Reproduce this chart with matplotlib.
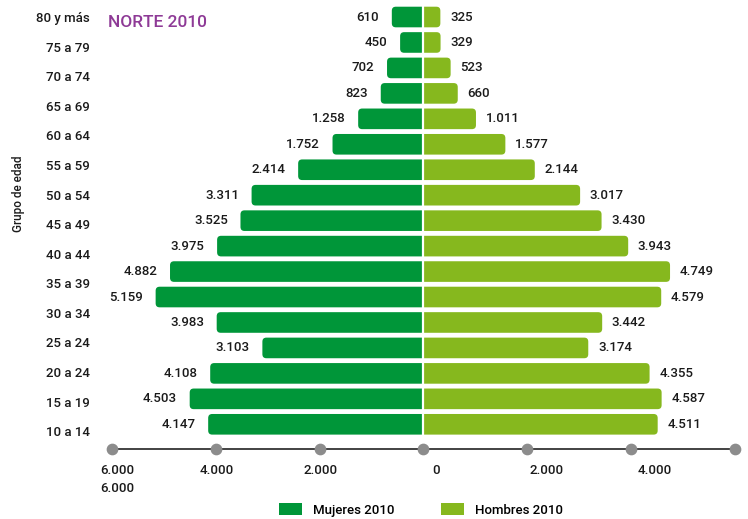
import matplotlib
matplotlib.use("Agg")
import matplotlib.pyplot as plt
import numpy as np
from matplotlib.patches import FancyBboxPatch, Rectangle, Patch

plt.rcParams['font.family'] = ['Roboto', 'DejaVu Sans']

# ---- data ----
age_groups = ["80 y más", "75 a 79", "70 a 74", "65 a 69", "60 a 64", "55 a 59",
              "50 a 54", "45 a 49", "40 a 44", "35 a 39", "30 a 34", "25 a 24",
              "20 a 24", "15 a 19", "10 a 14"]
mujeres = [610, 450, 702, 823, 1258, 1752, 2414, 3311, 3525, 3975, 4882, 5159,
           3983, 3103, 4108, 4503, 4147]
hombres = [325, 329, 523, 660, 1011, 1577, 2144, 3017, 3430, 3943, 4749, 4579,
           3442, 3174, 4355, 4587, 4511]
axis_dots = [-6000, -4000, -2000, 0, 2000, 4000, 6000]
xtick_labels = ["6.000\n6.000", "4.000", "2.000", "0", "2.000", "4.000"]
xtick_label_pos = [-5900, -3980, -1980, 250, 2370, 4450]
title = "NORTE 2010"
ylabel = "Grupo de edad"
legend_labels = ["Mujeres 2010", "Hombres 2010"]

c_m = "#009639"
c_h = "#86B81E"
c_title = "#8E3A96"
c_text = "#1a1a1a"
fs = 9.5

def fmt(v):
    return f"{v:,}".replace(",", ".")

fig = plt.figure(figsize=(7.48, 5.19), dpi=100)
ax = fig.add_axes([0.1497, 0.1349, 0.9826 - 0.1497, 0.9942 - 0.1349])

n = len(mujeres)
y = np.arange(n)[::-1]
ybot, ytop = -0.97, 16.55
ax.set_xlim(-6000, 6000)
ax.set_ylim(ybot, ytop)

bh = 0.81
bars_m = ax.barh(y, [-v for v in mujeres], height=bh, color=c_m)
bars_h = ax.barh(y, hombres, height=bh, color=c_h)

# rounded outer ends
r_x = 77.0
aspect = 0.157 / r_x
ext = 150
clip_left = Rectangle((-7000, -5), 7000, 30, transform=ax.transData)
clip_right = Rectangle((0, -5), 7000, 30, transform=ax.transData)
for rect in bars_m:
    x0, y0, w, h = rect.get_x(), rect.get_y(), rect.get_width(), rect.get_height()
    left = min(x0, x0 + w)
    rect.set_visible(False)
    p = FancyBboxPatch((left, y0), abs(w) + ext, h,
                       boxstyle=f"round,pad=0,rounding_size={r_x}",
                       mutation_aspect=aspect, fc=c_m, ec='none', zorder=2)
    ax.add_patch(p)
    p.set_clip_path(clip_left)
for rect in bars_h:
    x0, y0, w, h = rect.get_x(), rect.get_y(), rect.get_width(), rect.get_height()
    rect.set_visible(False)
    p = FancyBboxPatch((x0 - ext, y0), w + ext, h,
                       boxstyle=f"round,pad=0,rounding_size={r_x}",
                       mutation_aspect=aspect, fc=c_h, ec='none', zorder=2)
    ax.add_patch(p)
    p.set_clip_path(clip_right)

ax.vlines(0, -0.5, n - 0.5, color='white', lw=1.6, zorder=3)

# value labels
for yi, v in zip(y, mujeres):
    ax.annotate(fmt(v), (-v, yi), xytext=(-9, 0), textcoords='offset points',
                ha='right', va='center', fontsize=fs, color=c_text, fontweight='medium')
for yi, v in zip(y, hombres):
    ax.annotate(fmt(v), (v, yi), xytext=(7, 0), textcoords='offset points',
                ha='left', va='center', fontsize=fs, color=c_text, fontweight='medium')

# axes styling
for s in ['top', 'right', 'left']:
    ax.spines[s].set_visible(False)
ax.spines['bottom'].set_color('#222222')
ax.spines['bottom'].set_linewidth(1.2)
ax.scatter(axis_dots, [ybot] * len(axis_dots), s=55, color='#8c8c8c',
           clip_on=False, zorder=5)

ax.set_xticks(xtick_label_pos)
ax.set_xticklabels(xtick_labels, fontsize=fs, color=c_text, linespacing=1.5,
                   va='top', fontweight='medium')
ax.tick_params(axis='x', length=0, pad=11)

label_pos = np.linspace(n - 1, -0.27, len(age_groups))
ax.set_yticks(label_pos)
ax.set_yticklabels(age_groups, fontsize=fs, color=c_text, fontweight='medium')
ax.tick_params(axis='y', length=0, pad=16)

fig.text(108 / 748, 1 - 22.5 / 519, title, color=c_title, fontsize=12.5,
         fontweight='medium', ha='left', va='center')
fig.text(19 / 748, 1 - 194 / 519, ylabel, rotation=90, fontsize=8.5,
         color=c_text, ha='center', va='center', fontweight='medium')

handles = [Patch(facecolor=c_m, edgecolor='none'), Patch(facecolor=c_h, edgecolor='none')]
fig.legend(handles, legend_labels, loc='center left', bbox_to_anchor=(279 / 748, 1 - 510 / 519),
           ncol=2, frameon=False, handlelength=1.75, handleheight=0.92,
           handletextpad=0.85, columnspacing=3.5, borderpad=0, borderaxespad=0,
           prop={'size': fs, 'weight': 'medium'})

fig.savefig("out.png", dpi=100)
